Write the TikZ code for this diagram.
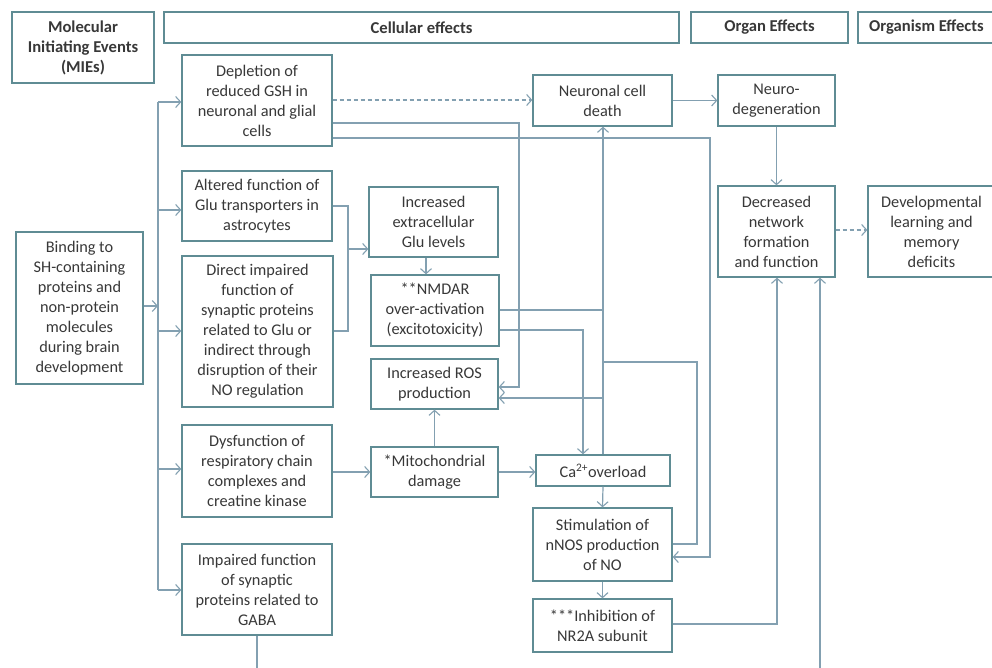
\documentclass[tikz,border=0pt]{standalone}
\usepackage{fontspec}
\setmainfont{Carlito}
\usetikzlibrary{arrows.meta}
\definecolor{boxc}{HTML}{5F8C94}
\definecolor{lnc}{HTML}{83A0B1}
\definecolor{txt}{HTML}{383838}
\begin{document}
\begin{tikzpicture}[x=1pt,y=-1pt,
 box/.style={draw=boxc, line width=1.3pt, fill=white, align=center, inner sep=0pt, text=txt, font=\fontsize{16.3}{20}\selectfont},
 hdr/.style={box, font=\bfseries\fontsize{16.6}{20}\selectfont},
 ln/.style={draw=lnc, line width=1.2pt},
 arr/.style={ln, -{Straight Barb[length=5pt,width=11pt,line width=1.1pt]}},
 darr/.style={arr, dash pattern=on 4pt off 3pt}]
\useasboundingbox[fill=white] (0,0) rectangle (992,668);
% headers
\node[hdr, minimum width=142pt, minimum height=71pt] (mie) at (83,47.5) {Molecular\\Initiating Events\\(MIEs)};
\node[hdr, minimum width=515pt, minimum height=31pt] (cell) at (421.5,27.5) {Cellular effects};
\node[hdr, minimum width=157pt, minimum height=31pt] (organ) at (769.5,27.5) {Organ Effects};
\node[hdr, minimum width=137pt, minimum height=31pt] (organism) at (926.5,27.5) {Organism Effects};
% MIE
\node[box, minimum width=127pt, minimum height=152pt] (bind) at (79.5,308) {Binding to\\SH-containing\\proteins and\\non-protein\\molecules\\during brain\\development};
% column 1
\node[box, minimum width=150pt, minimum height=91pt] (dep) at (257,100.5) {Depletion of\\reduced GSH in\\neuronal and glial\\cells};
\node[box, minimum width=150pt, minimum height=70pt] (alt) at (257,206) {Altered function of\\Glu transporters in\\astrocytes};
\node[box, minimum width=151pt, minimum height=151pt] (dir) at (257.5,331.5) {Direct impaired\\function of\\synaptic proteins\\related to Glu or\\indirect through\\disruption of their\\NO regulation};
\node[box, minimum width=150pt, minimum height=92pt] (dys) at (257,471) {Dysfunction of\\respiratory chain\\complexes and\\creatine kinase};
\node[box, minimum width=150pt, minimum height=91pt] (gaba) at (257,589.5) {Impaired function\\of synaptic\\proteins related to\\GABA};
% column 2
\node[box, minimum width=129pt, minimum height=70pt] (glu) at (433.5,222) {Increased\\extracellular\\Glu levels};
\node[box, minimum width=128pt, minimum height=71pt] (nmda) at (435,310.5) {**NMDAR\\over-activation\\(excitotoxicity)};
\node[box, minimum width=127pt, minimum height=50pt] (ros) at (434.5,384) {Increased ROS\\production};
\node[box, minimum width=127pt, minimum height=50pt] (mito) at (434.5,472) {*Mitochondrial\\damage};
% column 3
\node[box, minimum width=139pt, minimum height=51pt] (ncd) at (602.5,100.5) {Neuronal cell\\death};
\node[box, minimum width=134pt, minimum height=31pt] (ca) at (603,470.5) {Ca\textsuperscript{2+}overload};
\node[box, minimum width=139pt, minimum height=73pt] (nnos) at (602.5,544.5) {Stimulation of\\nNOS production\\of NO};
\node[box, minimum width=139pt, minimum height=53pt] (nr2a) at (602.5,625.5) {***Inhibition of\\NR2A subunit};
% column 4 and 5
\node[box, minimum width=117pt, minimum height=51pt] (neuro) at (776.5,100.5) {Neuro-\\degeneration};
\node[box, minimum width=117pt, minimum height=91pt] (dec) at (776.5,231.5) {Decreased\\network\\formation\\and function};
\node[box, minimum width=127pt, minimum height=91pt] (devl) at (931.5,231.5) {Developmental\\learning and\\memory\\deficits};
% spine
\coordinate (spT) at (158,102);
\coordinate (spB) at (158,590);
\draw[ln] (spT) -- (spB);
\draw[arr] (bind.east |- 0,306) -- (158,306);
\draw[arr] (spT) -- (dep.west |- spT);
\draw[arr] (158,210) -- (alt.west |- 0,210);
\draw[arr] (158,331) -- (dir.west |- 0,331);
\draw[arr] (158,469) -- (dys.west |- 0,469);
\draw[arr] (spB) -- (gaba.west |- spB);
% Glu inputs
\coordinate (gj) at (348,249);
\draw[ln] (alt.east |- 0,206) -- (348,206) -- (348,331) -- (dir.east |- 0,331);
\draw[arr] (gj) -- (glu.west |- gj);
\draw[arr] (glu.south -| 426,0) -- (nmda.north -| 426,0);
% depletion outputs
\draw[darr] (dep.east |- 0,100) -- (ncd.west |- 0,100);
\draw[arr] (dep.east |- 0,123) -- (519,123) -- (519,387) -- (ros.east |- 0,387);
\draw[arr] (dep.east |- 0,138) -- (710,138) -- (710,557) -- (nnos.east |- 0,557);
% NMDAR outputs
\draw[ln] (nmda.east |- 0,310) -- (603,310);
\draw[arr] (nmda.east |- 0,330) -- (583,330) -- (ca.north -| 583,0);
% Ca upward line
\draw[arr] (ca.north) -- (ca.north |- ncd.south);
\draw[arr] (603,398) -- (ros.east |- 0,398);
\draw[ln] (603,362) -- (697,362) -- (697,544) -- (nnos.east |- 0,544);
% mitochondria
\draw[arr] (mito.north) -- (ros.south);
\draw[arr] (mito.east) -- (ca.west |- mito.east);
\draw[arr] (dys.east |- mito.west) -- (mito.west);
% chain
\draw[arr] (ca.south) -- (nnos.north);
\draw[arr] (nnos.south) -- (nr2a.north);
\draw[arr] (nr2a.east |- 0,624) -- (777,624) -- (dec.south -| 777,0);
\draw[arr] (gaba.south) -- (257,672) -- (820,672) -- (dec.south -| 820,0);
% organ level
\draw[arr] (ncd.east) -- (neuro.west);
\draw[arr] (neuro.south) -- (dec.north);
\draw[darr] (dec.east |- 0,230) -- (devl.west |- 0,230);
\end{tikzpicture}
\end{document}
